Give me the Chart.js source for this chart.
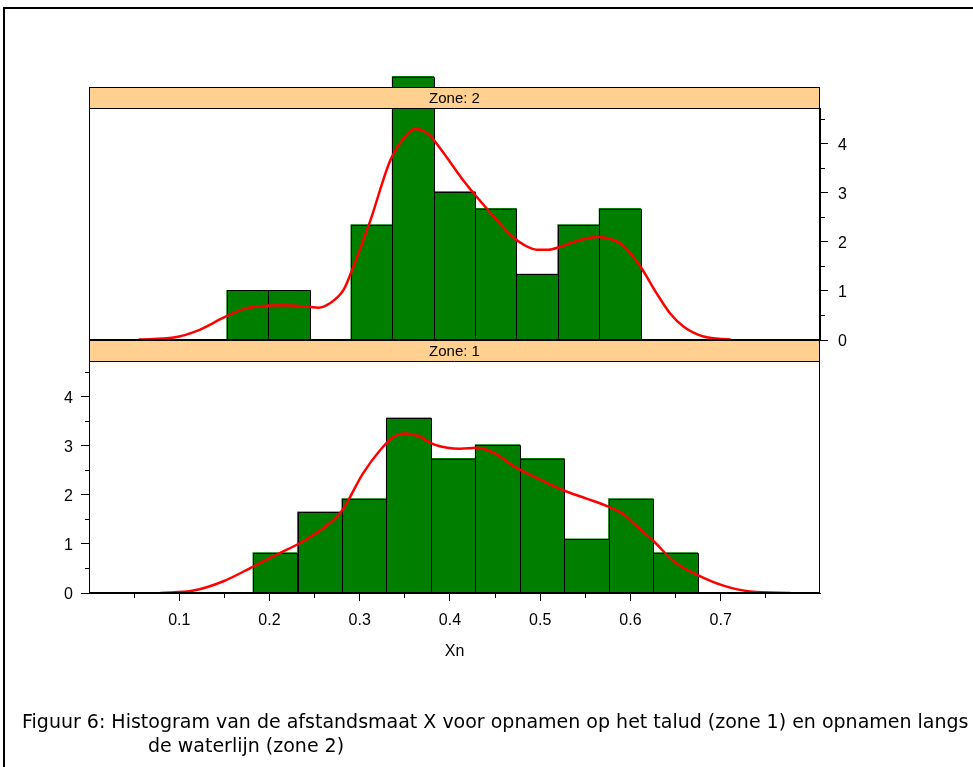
<!DOCTYPE html>
<html>
<head>
<meta charset="utf-8">
<title>Histogram Xn per zone</title>
<script src="https://cdn.jsdelivr.net/npm/chart.js@4.4.1/dist/chart.umd.min.js"></script>
<style>
  html, body { margin: 0; padding: 0; background: #fff; }
  #page { position: relative; width: 973px; height: 767px; overflow: hidden; background: #fff; }
  #frame { position: absolute; left: 3px; top: 7px; width: 1000px; height: 800px;
           border-left: 2px solid #000; border-top: 2px solid #000; }
  canvas { position: absolute; left: 0; }
  #caption { position: absolute; left: 22px; top: 709px; font: 19px "DejaVu Sans", Verdana, sans-serif;
             line-height: 24px; white-space: nowrap; color: #000; }
</style>
</head>
<body>
<div id="page">
  <div id="frame"></div>
  <canvas id="zone2Chart" width="973" height="365" style="top:0"></canvas>
  <canvas id="zone1Chart" width="973" height="437" style="top:330px"></canvas>
  <div id="caption">Figuur 6: Histogram van de afstandsmaat X voor opnamen op het talud (zone 1) en opnamen langs<br><span style="padding-left:126px">de waterlijn (zone 2)</span></div>
</div>
<script>
// ---- data -------------------------------------------------------------
// Zone 2 (waterlijn): bin centres and density heights
const zone2Centers = [0.1756, 0.2215, 0.2673, 0.3132, 0.3590, 0.4049, 0.4507, 0.4966, 0.5424, 0.5883];
const zone2Density = [1.01, 1.01, 0, 2.35, 5.37, 3.02, 2.68, 1.34, 2.35, 2.68];
// Zone 1 (talud): bin centres and density heights
const zone1Centers = [0.2064, 0.2557, 0.3049, 0.3542, 0.4034, 0.4527, 0.5019, 0.5512, 0.6004, 0.6497];
const zone1Density = [0.82, 1.65, 1.92, 3.57, 2.74, 3.02, 2.74, 1.10, 1.92, 0.82];

// Kernel density curves
const zone2CurveX = [0.055, 0.094, 0.119, 0.153, 0.175, 0.197, 0.216, 0.234, 0.254, 0.267, 0.282, 0.293,
                     0.312, 0.334, 0.349, 0.361, 0.376, 0.389, 0.417, 0.445, 0.469, 0.482, 0.496, 0.509,
                     0.522, 0.544, 0.563, 0.578, 0.591, 0.611, 0.629, 0.644, 0.659, 0.681, 0.711];
const zone2CurveY = [0.01, 0.05, 0.18, 0.49, 0.65, 0.70, 0.71, 0.69, 0.66, 0.75, 1.02, 1.50,
                     2.45, 3.67, 4.12, 4.30, 4.20, 3.91, 3.20, 2.59, 2.11, 1.94, 1.84, 1.84,
                     1.90, 2.04, 2.10, 2.06, 1.94, 1.50, 0.95, 0.54, 0.27, 0.07, 0.01];
const zone1CurveX = [0.079, 0.116, 0.149, 0.182, 0.212, 0.234, 0.264, 0.280, 0.304, 0.323, 0.336, 0.350,
                     0.365, 0.382, 0.397, 0.411, 0.430, 0.448, 0.474, 0.500, 0.526, 0.552, 0.574, 0.591,
                     0.607, 0.626, 0.648, 0.674, 0.703, 0.733, 0.777];
const zone1CurveY = [0.00, 0.05, 0.24, 0.54, 0.82, 1.02, 1.38, 1.67, 2.45, 2.92, 3.16, 3.25,
                     3.20, 3.03, 2.96, 2.94, 2.96, 2.86, 2.55, 2.31, 2.09, 1.92, 1.77, 1.62,
                     1.36, 1.05, 0.645, 0.37, 0.15, 0.03, 0.00];

// Axis labels
const xTickLabels = ['0.1', '0.2', '0.3', '0.4', '0.5', '0.6', '0.7'];
const yTickLabels = ['0', '1', '2', '3', '4'];
const xAxisTitle = 'Xn';

// ---- styling ----------------------------------------------------------
const BAR_GREEN = '#007e00';
const CURVE_RED = '#ff0000';
const STRIP_COLOR = '#ffd08f';
const STRIP_H = 21;
const FONT = '"Liberation Sans", Arial, Helvetica, sans-serif';
const X_MIN = 0, X_MAX = 0.81, Y_MAX = 4.73;

Chart.defaults.font.family = FONT;
Chart.defaults.font.size = 16;
Chart.defaults.color = '#000';

const near = (a, b) => Math.abs(a - b) < 1e-6;
const isMajorX = v => near(v * 10, Math.round(v * 10));
const isMajorY = v => near(v, Math.round(v));

// Crisp 1px outlines around the histogram bars, taken from the bar elements
// right after the bar dataset is drawn (so the density curve stays on top).
const barOutline = {
  id: 'barOutline',
  afterDatasetDraw(chart, args) {
    if (args.meta.type !== 'bar') return;
    const ctx = chart.ctx;
    ctx.save();
    ctx.strokeStyle = '#000';
    ctx.lineWidth = 1;
    ctx.beginPath();
    args.meta.data.forEach(el => {
      const p = el.getProps(['x', 'y', 'base', 'width'], true);
      if (Math.abs(p.base - p.y) < 0.5) return;
      const l = Math.round(p.x - p.width / 2) + 0.5;
      const r = Math.round(p.x + p.width / 2) + 0.5;
      const t = Math.round(p.y) + 0.5;
      const b = Math.round(p.base);
      ctx.moveTo(l, b);
      ctx.lineTo(l, t);
      ctx.lineTo(r, t);
      ctx.lineTo(r, b);
    });
    ctx.stroke();
    ctx.restore();
  }
};

function stripPlugin(label) {
  return {
    id: 'panelStrip',
    afterDatasetsDraw(chart) {
      const { ctx, chartArea: a } = chart;
      const w = a.right - a.left;
      ctx.save();
      ctx.fillStyle = STRIP_COLOR;
      ctx.fillRect(a.left, a.top - STRIP_H, w, STRIP_H);
      ctx.strokeStyle = '#000';
      ctx.lineWidth = 1;
      ctx.strokeRect(a.left + 0.5, a.top - STRIP_H + 0.5, w - 1, a.bottom - a.top + STRIP_H - 1);
      ctx.beginPath();
      ctx.moveTo(a.left, a.top + 0.5);
      ctx.lineTo(a.right, a.top + 0.5);
      ctx.stroke();
      ctx.fillStyle = '#000';
      ctx.font = '15px ' + FONT;
      ctx.textAlign = 'center';
      ctx.textBaseline = 'middle';
      ctx.fillText(label, (a.left + a.right) / 2, a.top - STRIP_H / 2 + 1);
      ctx.restore();
    }
  };
}

function makePanel(canvasId, label, centers, density, curveX, curveY, cfg) {
  const xScale = {
    type: 'linear', min: X_MIN, max: X_MAX, offset: false,
    display: cfg.showX,
    afterFit: s => { s.height = cfg.showX ? 68 : 0; },
    ticks: {
      stepSize: 0.05, includeBounds: false, autoSkip: false, maxRotation: 0, padding: 10,
      font: { size: 16 },
      callback: v => {
        const s = Number(v).toFixed(1);
        return isMajorX(v) && xTickLabels.includes(s) ? s : '';
      }
    },
    grid: {
      offset: false, drawOnChartArea: false, drawTicks: true, tickLength: 8, tickWidth: 1,
      tickColor: c => (c.tick && c.tick.value > 0.01 && c.tick.value < 0.79) ? '#000' : 'rgba(0,0,0,0)',
      tickBorderDash: c => (c.tick && isMajorX(c.tick.value)) ? [] : [4, 100]
    },
    border: { display: true, color: '#000', width: 1 },
    title: { display: cfg.showX, text: xAxisTitle, font: { size: 16 }, padding: 0, color: '#000' }
  };
  const yScale = {
    type: 'linear', min: 0, max: Y_MAX, position: cfg.yPosition,
    afterFit: s => { s.width = 45; },
    ticks: {
      stepSize: 0.5, includeBounds: false, autoSkip: false, padding: cfg.yPosition === 'left' ? 8 : 10,
      labelOffset: 2,
      font: { size: 16 },
      callback: v => {
        const s = String(Math.round(v));
        return isMajorY(v) && yTickLabels.includes(s) ? s : '';
      }
    },
    grid: {
      drawOnChartArea: false, drawTicks: true, tickLength: 8, tickWidth: 1, tickColor: '#000',
      tickBorderDash: c => {
        if (c.tick && isMajorY(c.tick.value)) return [];
        return cfg.yPosition === 'left' ? [0, 4, 4, 100] : [4, 100];
      }
    },
    border: { display: true, color: '#000', width: 1 }
  };

  return new Chart(document.getElementById(canvasId), {
    type: 'bar',
    data: {
      datasets: [
        {
          type: 'line',
          order: 1,
          data: curveX.map((x, i) => ({ x, y: curveY[i] })),
          borderColor: CURVE_RED,
          borderWidth: 2.5,
          pointRadius: 0,
          cubicInterpolationMode: 'monotone',
          fill: false
        },
        {
          type: 'bar',
          order: 2,
          data: centers.map((x, i) => ({ x, y: density[i] })),
          backgroundColor: BAR_GREEN,
          borderWidth: 0,
          inflateAmount: 0.5,
          barPercentage: 1,
          categoryPercentage: 1,
          clip: false
        }
      ]
    },
    options: {
      responsive: false,
      animation: false,
      devicePixelRatio: 1,
      events: [],
      layout: { padding: cfg.padding },
      scales: { x: xScale, y: yScale },
      plugins: { legend: { display: false }, tooltip: { enabled: false }, title: { display: false } }
    },
    plugins: [barOutline, stripPlugin(label)]
  });
}

// Upper panel: zone 2, value axis on the right, no x axis
makePanel('zone2Chart', 'Zone: 2', zone2Centers, zone2Density, zone2CurveX, zone2CurveY, {
  showX: false, yPosition: 'right',
  padding: { left: 89, right: 108, top: 108, bottom: 25 }
});
// Lower panel: zone 1, value axis on the left, shared x axis
makePanel('zone1Chart', 'Zone: 1', zone1Centers, zone1Density, zone1CurveX, zone1CurveY, {
  showX: true, yPosition: 'left',
  padding: { left: 44, right: 153, top: 31, bottom: 106 }
});
</script>
</body>
</html>
